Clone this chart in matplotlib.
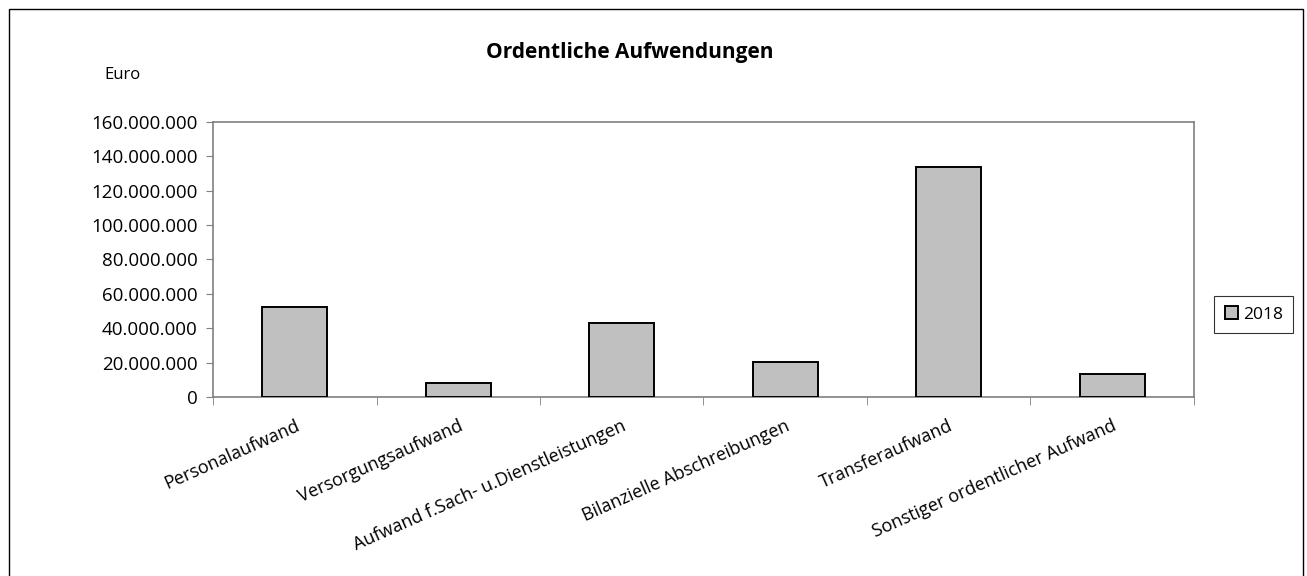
import matplotlib.pyplot as plt
from matplotlib.patches import Rectangle
from matplotlib.ticker import FuncFormatter

plt.rcParams['font.family'] = ['Open Sans', 'DejaVu Sans']

kategorien = ['Personalaufwand', 'Versorgungsaufwand', 'Aufwand f.Sach- u.Dienstleistungen',
              'Bilanzielle Abschreibungen', 'Transferaufwand', 'Sonstiger ordentlicher Aufwand']
werte_2018 = [52300000, 8600000, 43400000, 20800000, 133800000, 13600000]
y_ticks = [0, 20000000, 40000000, 60000000, 80000000, 100000000, 120000000, 140000000, 160000000]

fig = plt.figure(figsize=(13.07, 5.76), dpi=100)
ax = fig.add_axes([0.163, 0.31, 0.7505, 0.479])

x = range(len(kategorien))
ax.bar(x, werte_2018, width=0.4, color='#c0c0c0', edgecolor='black', linewidth=1.4, label='2018', zorder=3)

ax.set_xlim(-0.5, len(kategorien) - 0.5)
ax.set_ylim(0, 160000000)
ax.set_yticks(y_ticks)
ax.yaxis.set_major_formatter(FuncFormatter(lambda v, p: f'{int(v):,}'.replace(',', '.')))
ax.tick_params(axis='y', labelsize=13.5, length=5, color='#808080', pad=6)

# Beschriftungen in der Mitte, Striche an den Grenzen
ax.set_xticks(list(x))
ax.set_xticklabels(kategorien, rotation=24, ha='right', rotation_mode='anchor', fontsize=13)
ax.tick_params(axis='x', which='major', length=0, pad=14)
ax.set_xticks([i - 0.5 for i in range(len(kategorien) + 1)], minor=True)
ax.tick_params(axis='x', which='minor', length=6, color='#808080')

for s in ax.spines.values():
    s.set_color('#808080')
    s.set_linewidth(1.2)

ax.set_title('Ordentliche Aufwendungen', fontsize=15, fontweight='bold', pad=46, x=0.425)
fig.text(0.08, 0.862, 'Euro', fontsize=12)

leg = ax.legend(loc='center left', bbox_to_anchor=(1.012, 0.3), fontsize=12.5, frameon=True,
                fancybox=False, edgecolor='black', handlelength=0.75, handleheight=0.75,
                handletextpad=0.3, borderpad=0.6)
leg.get_frame().set_linewidth(0.8)

fig.patches.append(Rectangle((0.007, -0.01), 0.99, 0.995, transform=fig.transFigure,
                             fill=False, edgecolor='black', linewidth=1))

fig.savefig('out.png', dpi=100)
